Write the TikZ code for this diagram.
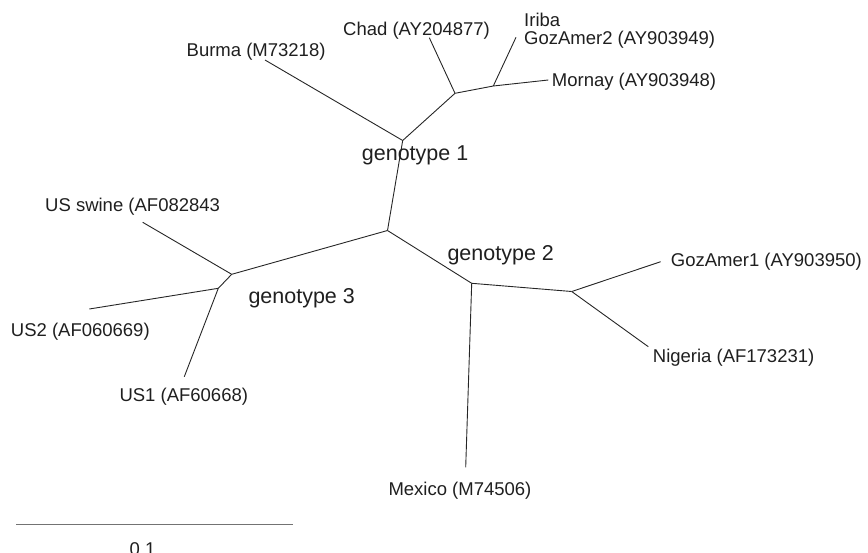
\documentclass[tikz,border=0pt]{standalone}
\usepackage{fontspec}
\setmainfont{Liberation Sans}
\begin{document}
\begin{tikzpicture}[x=1pt,y=-1pt,
  branch/.style={line width=0.9pt, draw=black!85},
  leaf/.style={inner sep=0pt, anchor=base west, font=\fontsize{18.5}{22}\selectfont, text=black!88},
  geno/.style={inner sep=0pt, anchor=base west, font=\fontsize{21.5}{25}\selectfont, text=black!88},
  scalebar/.style={line width=1pt, draw=black!55}]
\useasboundingbox (0,0) rectangle (868,552);
% internal nodes
\coordinate (c) at (387.5,230.5);
\coordinate (g1) at (402.7,140.5);
\coordinate (g1a) at (455,93.3);
\coordinate (g1b) at (493.3,86);
\coordinate (g3) at (231.7,274.3);
\coordinate (g3a) at (218.3,288.3);
\coordinate (g2) at (471.7,283.3);
\coordinate (g2a) at (571.7,291.5);
% leaf ends
\coordinate (eburma) at (265,60);
\coordinate (echad) at (429.3,37.7);
\coordinate (eiriba) at (516,37.3);
\coordinate (emornay) at (548.3,80);
\coordinate (eswine) at (142.7,222.3);
\coordinate (eus2) at (89.3,309);
\coordinate (eus1) at (184.3,376.7);
\coordinate (egoz1) at (660.7,261.7);
\coordinate (enig) at (648.3,346.7);
\coordinate (emex) at (465.7,467.3);
% branches
\draw[branch] (c) -- (g1);
\draw[branch] (g1) -- (eburma);
\draw[branch] (g1) -- (g1a);
\draw[branch] (g1a) -- (echad);
\draw[branch] (g1a) -- (g1b);
\draw[branch] (g1b) -- (eiriba);
\draw[branch] (g1b) -- (emornay);
\draw[branch] (c) -- (g3);
\draw[branch] (g3) -- (eswine);
\draw[branch] (g3) -- (g3a);
\draw[branch] (g3a) -- (eus2);
\draw[branch] (g3a) -- (eus1);
\draw[branch] (c) -- (g2);
\draw[branch] (g2) -- (emex);
\draw[branch] (g2) -- (g2a);
\draw[branch] (g2a) -- (egoz1);
\draw[branch] (g2a) -- (enig);
% leaf labels
\node[leaf] (lburma) at (186.5,56.7) {Burma (M73218)};
\node[leaf] (lchad) at (343,35) {Chad (AY204877)};
\node[leaf] (liriba) at (524,26.7) {Iriba};
\node[leaf] (lgoz2) at (524,44.3) {GozAmer2 (AY903949)};
\node[leaf] (lmornay) at (551.7,86.7) {Mornay (AY903948)};
\node[leaf] (lswine) at (45,211.7) {US swine (AF082843};
\node[leaf] (lus2) at (10.7,336.7) {US2 (AF060669)};
\node[leaf] (lus1) at (119.3,401.7) {US1 (AF60668)};
\node[leaf] (lgoz1) at (670.7,266) {GozAmer1 (AY903950)};
\node[leaf] (lnig) at (652.7,362.7) {Nigeria (AF173231)};
\node[leaf] (lmex) at (388.3,495) {Mexico (M74506)};
% genotype labels
\node[geno] (lg1) at (361.7,160.7) {genotype 1};
\node[geno] (lg2) at (447.3,260) {genotype 2};
\node[geno] (lg3) at (248.3,303.3) {genotype 3};
% scale bar
\coordinate (sbl) at (16,524.3);
\coordinate (sbr) at (293.3,524.3);
\draw[scalebar] (sbl) -- (sbr);
\node[leaf, anchor=base] (lscale) at (142.5,555.5) {0.1};
\end{tikzpicture}
\end{document}
